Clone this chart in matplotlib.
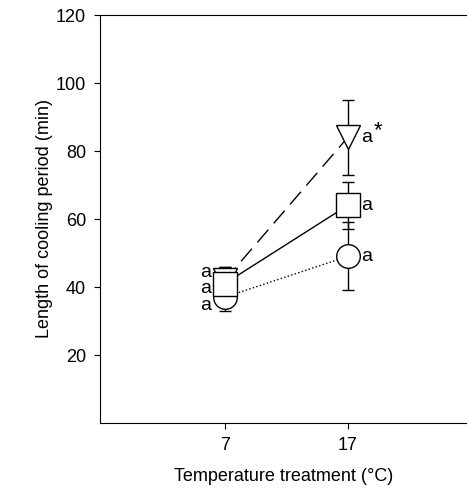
import matplotlib.pyplot as plt

temps = [7, 17]
circle_mean = [37, 49]
circle_err = [4, 10]
square_mean = [41, 64]
square_err = [5, 7]
tri_mean = [42, 84]
tri_err = [4, 11]

plt.rcParams['font.family'] = ['Liberation Sans', 'DejaVu Sans']
fig = plt.figure(figsize=(4.67, 4.88), dpi=100)
ax = fig.add_axes([100/467, 65/488, 1 - 100/467, 408/488])

kw = dict(color='black', lw=1.0, capsize=4, ms=17, mfc='white', mec='black', mew=1.0)
ax.errorbar(temps, circle_mean, yerr=circle_err, fmt='o', ls=':', **kw)
ax.errorbar(temps, tri_mean, yerr=tri_err, fmt='v', ls=(0, (12, 6)), **kw)
ax.errorbar(temps, square_mean, yerr=square_err, fmt='s', ls='-', **kw)

fs = 14
ax.text(temps[0] - 1.1, 34.7, 'a', ha='right', va='center', fontsize=fs)
ax.text(temps[0] - 1.1, 39.5, 'a', ha='right', va='center', fontsize=fs)
ax.text(temps[0] - 1.1, 44.4, 'a', ha='right', va='center', fontsize=fs)
ax.text(temps[1] + 1.1, circle_mean[1], 'a', ha='left', va='center', fontsize=fs)
ax.text(temps[1] + 1.1, square_mean[1], 'a', ha='left', va='center', fontsize=fs)
ax.text(temps[1] + 1.1, tri_mean[1], 'a', ha='left', va='center', fontsize=fs)
ax.text(temps[1] + 2.1, tri_mean[1] + 2.0, '*', ha='left', va='center', fontsize=16)

ax.set_xlim(-3.15, 26.7)
ax.set_ylim(0, 120)
ax.set_xticks(temps)
ax.set_yticks([20, 40, 60, 80, 100, 120])
ax.spines['right'].set_visible(False)
ax.tick_params(direction='out', length=4, labelsize=13, pad=6)
ax.set_xlabel('Temperature treatment (°C)', fontsize=13, labelpad=10)
ax.set_ylabel('Length of cooling period (min)', fontsize=13, labelpad=2)

fig.savefig('out.png', dpi=100)
